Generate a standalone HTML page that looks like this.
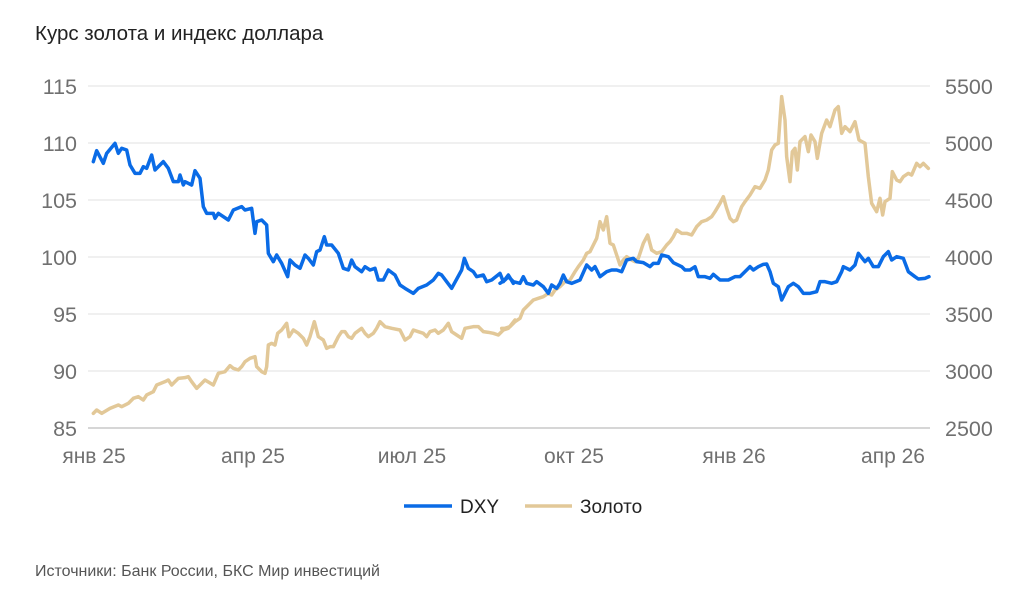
<!DOCTYPE html>
<html><head><meta charset="utf-8"><style>
body{margin:0;background:#fff;width:1024px;height:593px;overflow:hidden}
svg text{font-family:"Liberation Sans",sans-serif}
</style></head><body>
<svg width="1024" height="593" xmlns="http://www.w3.org/2000/svg">
<text x="35" y="40" font-size="20.5" fill="#222">Курс золота и индекс доллара</text>
<g stroke="#e0e0e0" stroke-width="1">
<line x1="88" x2="930" y1="86" y2="86"/><line x1="88" x2="930" y1="143" y2="143"/><line x1="88" x2="930" y1="200" y2="200"/><line x1="88" x2="930" y1="257" y2="257"/><line x1="88" x2="930" y1="314" y2="314"/><line x1="88" x2="930" y1="371" y2="371"/></g>
<line x1="88" x2="930" y1="428" y2="428" stroke="#c8c8c8" stroke-width="1.5"/>
<g font-size="21.5" fill="#707070" text-anchor="end">
<text x="77" y="94">115</text><text x="77" y="151">110</text><text x="77" y="208">105</text><text x="77" y="265">100</text><text x="77" y="322">95</text><text x="77" y="379">90</text><text x="77" y="436">85</text></g>
<g font-size="21.5" fill="#707070">
<text x="945" y="94">5500</text><text x="945" y="151">5000</text><text x="945" y="208">4500</text><text x="945" y="265">4000</text><text x="945" y="322">3500</text><text x="945" y="379">3000</text><text x="945" y="436">2500</text></g>
<g font-size="21" fill="#707070" text-anchor="middle">
<text x="94" y="463">янв 25</text><text x="253" y="463">апр 25</text><text x="412" y="463">июл 25</text><text x="574" y="463">окт 25</text><text x="734" y="463">янв 26</text><text x="893" y="463">апр 26</text></g>
<g fill="none" stroke-width="10.5" stroke-linejoin="round" stroke-linecap="round">
<g transform="translate(85,80) scale(0.33333)">
<polyline stroke="#e2c898" points="25,1000 35,990 50,1000 75,985 100,975 110,980 130,970 145,955 160,950 175,960 185,945 205,935 215,915 240,905 250,900 260,915 270,905 280,895 300,893 310,890 320,905 335,925 350,910 360,900 385,915 400,880 420,875 435,857 445,865 460,870 470,860 480,845 495,835 510,830 515,860 530,875 540,880 545,860 550,795 560,790 570,795 578,760 590,750 605,730 612,770 625,750 640,760 655,775 665,795 675,770 688,725 700,770 715,780 725,805 735,800 745,800 760,770 770,755 780,755 790,770 800,775 810,760 830,745 840,760 850,770 865,760 875,745 885,725 900,740 920,745 945,750 960,780 975,770 985,750 1000,755 1015,760 1025,770 1035,755 1050,750 1060,760 1075,750 1090,730 1100,755 1115,765 1130,775 1140,745 1165,740 1180,740 1195,755 1210,757 1225,760 1240,765 1255,750 1270,745 1290,720"/>
<polyline stroke="#0a6be6" points="25,245 35,212 55,250 65,220 90,190 100,220 110,205 125,210 135,255 150,280 165,280 175,260 185,265 200,225 210,270 235,245 250,265 265,305 280,305 285,285 295,315 300,305 320,315 330,272 345,295 355,380 365,400 385,400 390,415 400,400 430,420 445,390 470,380 480,390 500,385 510,460 515,425 530,420 545,435 550,520 565,545 575,525 590,550 608,590 615,540 630,555 645,565 660,525 670,535 685,555 695,515 705,510 718,470 725,495 740,495 760,520 775,565 790,570 800,540 810,560 830,575 840,560 855,570 870,565 880,600 895,600 910,570 930,585 945,615 960,625 985,640 1000,625 1025,615 1045,600 1060,580 1070,585 1085,605 1100,625 1130,570 1138,535 1150,565 1165,575 1175,590 1195,585 1205,605 1220,600 1245,580 1255,605 1270,585 1285,610"/>
</g>
<g transform="translate(505,80) scale(0.33333)">
<polyline stroke="#e2c898" points="-10,745 0,745 15,740 30,725 45,715 55,690 70,675 85,660 100,655 115,650 130,640 140,645 150,630 165,620 180,605 195,600 210,575 220,560 235,540 245,520 255,515 265,495 275,475 285,425 295,450 305,410 315,490 325,495 335,525 345,555 355,540 365,530 380,540 390,545 400,535 415,490 428,465 440,510 455,520 470,515 485,495 495,485 505,470 515,450 530,460 545,460 560,465 575,440 590,425 605,420 620,410 630,395 645,370 655,350 665,385 675,415 685,425 695,420 710,380 720,365 735,345 750,320 765,325 780,300 790,270 800,210 810,195 820,190 830,50 840,120 845,230 855,305 862,215 870,205 877,270 885,185 900,170 910,215 918,165 930,185 937,235 950,160 965,120 975,140 990,90 1000,80 1010,160 1020,140 1035,155 1050,125 1062,180 1080,190 1090,290 1100,370 1115,395 1125,355 1133,405 1140,365 1155,355 1162,275 1175,300 1185,305 1195,290 1210,280 1220,285 1235,250 1245,260 1255,250 1270,265"/>
<polyline stroke="#0a6be6" points="-15,610 0,600 10,590 25,605 45,610 55,590 65,610 85,615 95,605 115,620 130,640 140,615 155,625 165,610 175,585 185,605 200,610 225,600 245,555 260,570 270,560 285,590 305,575 320,570 335,570 350,575 365,540 385,535 395,545 415,548 435,560 445,550 460,550 470,525 490,530 505,548 530,560 540,570 555,570 570,560 580,590 600,590 615,595 625,583 645,600 670,600 690,590 705,590 725,570 735,560 745,570 760,560 775,553 785,552 795,575 805,610 820,620 830,660 840,640 850,620 865,610 880,620 895,640 915,640 935,635 945,605 960,605 980,610 995,605 1010,575 1015,560 1025,565 1035,570 1050,555 1060,520 1080,545 1090,535 1105,560 1120,560 1135,530 1150,515 1160,540 1175,530 1195,535 1210,575 1230,590 1240,597 1260,595 1272,590"/>
</g></g>
<line x1="404" x2="452" y1="506" y2="506" stroke="#0a6be6" stroke-width="3.5"/>
<text x="460" y="513" font-size="19" fill="#222">DXY</text>
<line x1="525" x2="572" y1="506" y2="506" stroke="#e2c898" stroke-width="3.5"/>
<text x="580" y="513" font-size="19" fill="#222">Золото</text>
<text x="35" y="576" font-size="16" fill="#555">Источники: Банк России, БКС Мир инвестиций</text>
</svg>
</body></html>
